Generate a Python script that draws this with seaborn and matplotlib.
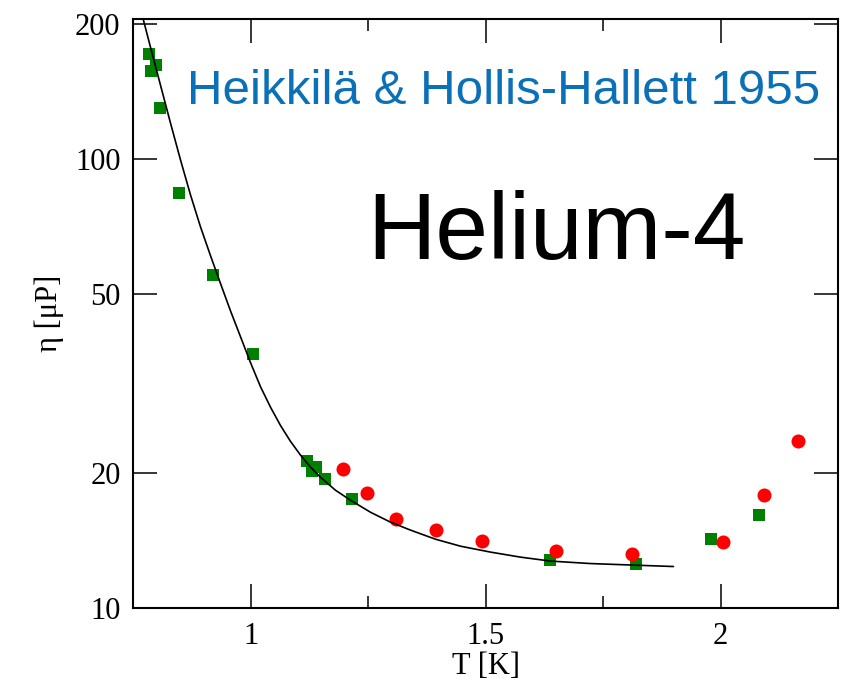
import matplotlib
matplotlib.use("Agg")
import matplotlib.pyplot as plt
import matplotlib.ticker as mticker
import pandas as pd
import seaborn as sns

# Viscosity of liquid helium-4 below the lambda point
# (Heikkilä & Hollis-Hallett 1955) with a smooth fit curve.

# fitted curve
fit_T = [0.7723, 0.7872, 0.8085, 0.8298, 0.8511, 0.8723, 0.8936, 0.9149,
         0.9362, 0.9574, 0.9787, 1.0000, 1.0213, 1.0426, 1.0638, 1.0851,
         1.1064, 1.1277, 1.1489, 1.1809, 1.2128, 1.2553, 1.2979, 1.3404,
         1.3936, 1.4468, 1.5106, 1.5745, 1.6383, 1.7234, 1.8149, 1.9000]
fit_eta = [203.7, 177.4, 146.0, 120.2, 99.5, 83.2, 70.6, 60.9,
           52.8, 45.9, 40.2, 35.2, 31.1, 28.0, 25.5, 23.5,
           21.9, 20.6, 19.55, 18.29, 17.38, 16.34, 15.53, 14.91,
           14.23, 13.73, 13.32, 12.98, 12.72, 12.56, 12.46, 12.37]

# green squares
sq_T = [0.783, 0.799, 0.789, 0.808, 0.847, 0.921, 1.006, 1.121, 1.140,
        1.130, 1.158, 1.216, 1.638, 1.820, 1.979, 2.081]
sq_eta = [170.9, 162.0, 157.1, 130.0, 83.9, 55.2, 36.8, 21.3, 20.6,
          20.2, 19.4, 17.5, 12.76, 12.52, 14.26, 16.07]

# red circles
circ_T = [1.197, 1.247, 1.310, 1.395, 1.492, 1.649, 1.811, 2.006, 2.092, 2.165]
circ_eta = [20.4, 18.0, 15.8, 14.9, 14.1, 13.37, 13.2, 14.04, 17.85, 23.6]

x_ticks = [1, 1.5, 2]
x_tick_labels = ["1", "1.5", "2"]
y_ticks = [10, 20, 50, 100, 200]
y_tick_labels = ["10", "20", "50", "100", "200"]

fit_df = pd.DataFrame({"T": fit_T, "eta": fit_eta})
sq_df = pd.DataFrame({"T": sq_T, "eta": sq_eta})
circ_df = pd.DataFrame({"T": circ_T, "eta": circ_eta})

sns.set_theme(style="ticks")
plt.rcParams["font.family"] = ["Liberation Serif", "DejaVu Serif"]

fig = plt.figure(figsize=(8.48, 6.81), dpi=100)
ax = fig.add_axes([133 / 848, 1 - 608 / 681, 705 / 848, 589 / 681])
ax.set_yscale("log")

sns.scatterplot(data=sq_df, x="T", y="eta", marker="s", s=74,
                color="#008000", linewidth=0, ax=ax, zorder=3)
sns.scatterplot(data=circ_df, x="T", y="eta", marker="o", s=102,
                color="#ff0000", linewidth=0, ax=ax, zorder=4)
sns.lineplot(data=fit_df, x="T", y="eta", estimator=None, sort=False,
             color="black", linewidth=1.2, ax=ax, zorder=5)

ax.set_xlim(0.75, 2.25)
ax.set_ylim(10, 205)

ax.xaxis.set_major_locator(mticker.FixedLocator(x_ticks))
ax.xaxis.set_major_formatter(mticker.FixedFormatter(x_tick_labels))
ax.xaxis.set_minor_locator(mticker.FixedLocator([1.25, 1.75]))
ax.yaxis.set_major_locator(mticker.FixedLocator(y_ticks))
ax.yaxis.set_major_formatter(mticker.FixedFormatter(y_tick_labels))
ax.yaxis.set_minor_locator(mticker.NullLocator())

ax.tick_params(which="both", direction="in", top=True, right=True,
               width=1.1, color="black", labelcolor="black", labelsize=22)
ax.tick_params(which="major", length=17)
ax.tick_params(which="minor", length=8.5)
ax.tick_params(axis="x", which="major", pad=10)
ax.tick_params(axis="y", which="major", pad=9)

for sp in ax.spines.values():
    sp.set_visible(True)
    sp.set_linewidth(1.5)
    sp.set_color("black")

ax.set_xlabel("T [K]", fontsize=22, color="black", labelpad=0.5)
ax.set_ylabel("η [μP]", fontsize=22, color="black", labelpad=8)

ax.text(0.076, 0.855, "Heikkilä & Hollis-Hallett 1955", transform=ax.transAxes,
        family=["Liberation Sans", "DejaVu Sans"], fontsize=35.5,
        color="#0a70b8", ha="left", va="baseline")
ax.text(0.332, 0.592, "Helium-4", transform=ax.transAxes,
        family=["Liberation Sans", "DejaVu Sans"], fontsize=68,
        color="black", ha="left", va="baseline")

fig.savefig("out.png", dpi=100, facecolor="white")
